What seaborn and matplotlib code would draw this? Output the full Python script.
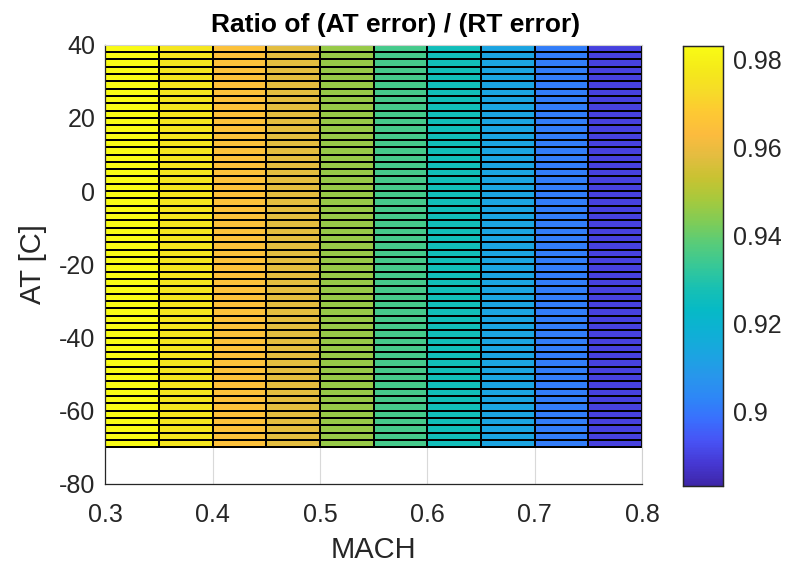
import numpy as np
import pandas as pd
import matplotlib
matplotlib.use("Agg")
import matplotlib.pyplot as plt
from matplotlib.colors import LinearSegmentedColormap
from matplotlib.ticker import FuncFormatter
import seaborn as sns

# Grid of Mach numbers and ambient temperatures
mach = [0.30, 0.35, 0.40, 0.45, 0.50, 0.55, 0.60, 0.65, 0.70, 0.75, 0.80]
at_c = np.arange(-70, 41, 2)

# Error ratio for each Mach number (constant along temperature)
ratio = [0.983, 0.976, 0.965, 0.958, 0.946, 0.935, 0.926, 0.913, 0.901, 0.890, 0.883]

x_ticks = [0.3, 0.4, 0.5, 0.6, 0.7, 0.8]
y_ticks = [-80, -60, -40, -20, 0, 20, 40]
cbar_ticks = [0.90, 0.92, 0.94, 0.96, 0.98]

# Parula-like colormap
parula = LinearSegmentedColormap.from_list("parula", [
    (0.00, (0.2422, 0.1504, 0.6603)),
    (0.05, (0.2728, 0.2187, 0.8267)),
    (0.10, (0.2810, 0.3228, 0.9579)),
    (0.15, (0.2252, 0.4331, 0.9940)),
    (0.20, (0.1786, 0.5289, 0.9682)),
    (0.25, (0.1540, 0.5902, 0.9218)),
    (0.30, (0.1034, 0.6468, 0.8803)),
    (0.35, (0.0540, 0.6918, 0.8330)),
    (0.40, (0.0238, 0.7278, 0.7765)),
    (0.45, (0.0927, 0.7539, 0.7005)),
    (0.50, (0.2161, 0.7843, 0.5923)),
    (0.55, (0.3400, 0.8000, 0.4800)),
    (0.60, (0.4970, 0.8000, 0.3400)),
    (0.65, (0.6500, 0.7900, 0.2400)),
    (0.70, (0.7824, 0.7633, 0.1930)),
    (0.75, (0.8907, 0.7400, 0.2500)),
    (0.80, (0.9871, 0.7348, 0.2438)),
    (0.85, (0.9944, 0.7870, 0.2000)),
    (0.90, (0.9657, 0.8618, 0.1541)),
    (0.95, (0.9600, 0.9200, 0.1000)),
    (1.00, (0.9769, 0.9839, 0.0805)),
])

# Faces take the value at their lower-left vertex (flat shading)
mach_arr = np.asarray(mach)
ratio_arr = np.asarray(ratio)
xc = (mach_arr[:-1] + mach_arr[1:]) / 2
yc = (at_c[:-1] + at_c[1:]) / 2
XX, YY = np.meshgrid(xc, yc)
WW = np.tile(ratio_arr[:-1], (len(yc), 1))
df = pd.DataFrame({"MACH": XX.ravel(), "AT": YY.ravel(), "ratio": WW.ravel()})

sns.set_theme(style="white")
plt.rcParams["font.family"] = ["Liberation Sans", "DejaVu Sans"]
plt.rcParams["axes.unicode_minus"] = False
dark = (0.15, 0.15, 0.15)

fig = plt.figure(figsize=(7.85, 5.66), dpi=100)
ax = fig.add_axes([0.134, 0.145, 0.684, 0.776])
cax = fig.add_axes([0.870, 0.141, 0.051, 0.778])

ax.set_axisbelow(True)
ax.grid(True, color=(0.85, 0.85, 0.85), linewidth=0.8)

sns.histplot(
    data=df, x="MACH", y="AT", weights="ratio",
    bins=[mach_arr, at_c], cmap=parula,
    vmin=ratio_arr.min(), vmax=ratio_arr.max(),
    edgecolor="black", linewidth=1.1,
    cbar=True, cbar_ax=cax, ax=ax,
)

ax.set_xlim(0.3, 0.8)
ax.set_ylim(-80, 40)
ax.set_xticks(x_ticks)
ax.set_yticks(y_ticks)
ax.xaxis.set_major_formatter(FuncFormatter(lambda v, p: f"{v:g}"))
ax.tick_params(direction="in", length=4, width=0.8, colors=dark,
               labelsize=18, pad=7)
ax.tick_params(axis="x", pad=14)
ax.set_xlabel("MACH", fontsize=21, color=dark, labelpad=6)
ax.set_ylabel("AT [C]", fontsize=21, color=dark, labelpad=9)
ax.set_title("Ratio of (AT error) / (RT error)", fontsize=19,
             fontweight="bold", color="black", pad=9, x=0.54)
for side in ["left", "bottom"]:
    ax.spines[side].set_color(dark)
    ax.spines[side].set_linewidth(0.9)
for side in ["top", "right"]:
    ax.spines[side].set_color((0.82, 0.82, 0.82))
    ax.spines[side].set_linewidth(0.8)

cax.set_yticks(cbar_ticks)
cax.yaxis.set_major_formatter(FuncFormatter(lambda v, p: f"{v:g}"))
cax.tick_params(direction="in", length=4, width=0.8, colors=dark,
                labelsize=18, pad=7, right=True, left=False)
for s in cax.spines.values():
    s.set_color(dark)
    s.set_linewidth(0.9)
    s.set_visible(True)

fig.savefig("out.png", dpi=100)
